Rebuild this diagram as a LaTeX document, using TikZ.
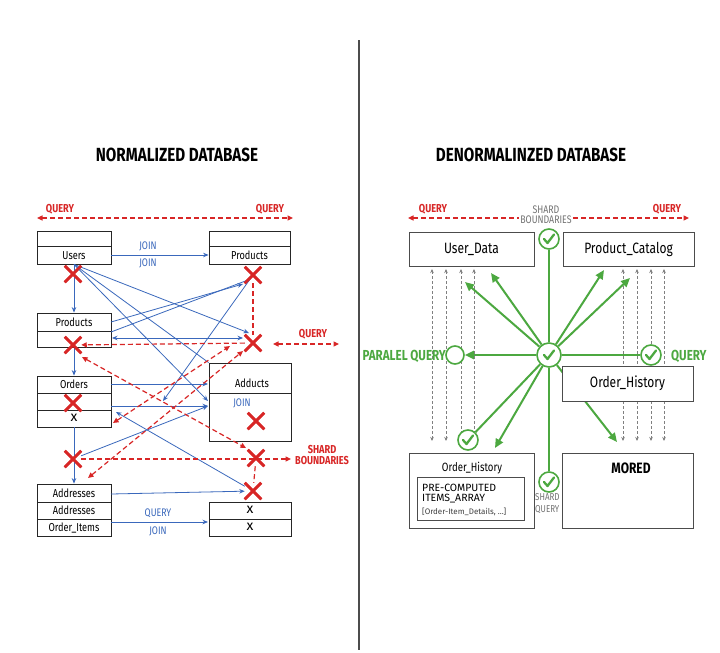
\documentclass[tikz,border=0pt]{standalone}
\usepackage{fontspec}
\setmainfont{Fira Sans}[FakeStretch=0.8]
\newfontfamily\widefont{Fira Sans}
\newfontfamily\lightfont{Fira Sans Light}
\usetikzlibrary{arrows.meta,shapes.misc}
\definecolor{cred}{RGB}{216,38,38}
\definecolor{cblue}{RGB}{58,104,188}
\definecolor{cgreen}{RGB}{76,168,64}
\newcommand\fsz[1]{\fontsize{#1}{#1}\selectfont}
\begin{document}
\begin{tikzpicture}[x=1pt,y=-1pt,
 tbox/.style={draw=black!85,line width=0.8pt,fill=white,inner sep=0pt},
 rbox/.style={draw=black!70,line width=1pt,fill=white,inner sep=0pt},
 divl/.style={draw=black!85,line width=0.8pt},
 lab/.style={font=\fsz{11.5},text=black,inner sep=1pt},
 xlab/.style={font=\widefont\fsz{14},text=black,inner sep=0pt},
 blab/.style={font=\fsz{11},text=cblue,inner sep=1pt},
 rlab/.style={font=\bfseries\fsz{11.5},text=cred,inner sep=1pt},
 glab/.style={font=\bfseries\fsz{14.5},text=cgreen,inner sep=1pt},
 gylab/.style={font=\fsz{11},text=black!55,inner sep=1pt},
 title/.style={font=\bfseries\fsz{19},text=black},
 redx/.style={cross out,draw=cred,line width=2.5pt,minimum size=14pt,inner sep=0pt},
 bl/.style={draw=cblue,line width=0.8pt},
 bla/.style={bl,-{Stealth[length=5.5pt,width=4.5pt]}},
 blaa/.style={bl,{Stealth[length=5.5pt,width=4.5pt]}-{Stealth[length=5.5pt,width=4.5pt]}},
 rd/.style={draw=cred,line width=1.2pt,dash pattern=on 5pt off 3pt},
 rda/.style={rd,-{Triangle[length=5.5pt,width=5pt]}},
 rdaa/.style={rd,{Triangle[length=5.5pt,width=5pt]}-{Triangle[length=5.5pt,width=5pt]}},
 gd/.style={draw=black!50,line width=0.8pt,dash pattern=on 3pt off 2pt,{Stealth[length=4pt,width=3.5pt]}-{Stealth[length=4pt,width=3.5pt]}},
 gl/.style={draw=cgreen,line width=2pt},
 gla/.style={gl,-{Triangle[length=9pt,width=8pt]}},
 chk/.style={circle,draw=cgreen,line width=1.6pt,fill=white,minimum size=#1,inner sep=0pt,
   path picture={\draw[cgreen,line width=2.3pt,line cap=round,line join=round,
     shift={(path picture bounding box.center)},scale=#1/20] (-5,0) -- (-1.5,4) -- (5,-4.5);}},
 hol/.style={circle,draw=cgreen,line width=1.6pt,fill=white,minimum size=18pt,inner sep=0pt}
]
\useasboundingbox (0,0) rectangle (720,653);
\fill[white] (0,0) rectangle (720,653);

% divider
\coordinate (dv1) at (359,40);
\coordinate (dv2) at (359,650);
\draw[line width=1.1pt,black!70] (dv1) -- (dv2);

% titles
\node[title] (t1) at (177,155) {NORMALIZED DATABASE};
\node[title] (t2) at (531,155) {DENORMALINZED DATABASE};

%================ LEFT ================
\coordinate (lq1) at (37,218);
\coordinate (lq2) at (293,218);
\draw[rdaa] (lq1) -- (lq2);
\node[rlab] (lqa) at (60,209) {QUERY};
\node[rlab] (lqb) at (270,209) {QUERY};

% boxes
\node[tbox,minimum width=74pt,minimum height=33pt] (users) at (74,247.5) {};
\draw[divl] (37,246) -- (111,246);
\node[lab] (usersT) at (74,255.5) {Users};

\node[tbox,minimum width=81pt,minimum height=33pt] (prodtop) at (249.5,247.5) {};
\draw[divl] (209,246) -- (290,246);
\node[lab] (prodtopT) at (249.5,255.5) {Products};

\node[tbox,minimum width=74pt,minimum height=34pt] (prodleft) at (74,330) {};
\draw[divl] (37,331) -- (111,331);
\node[lab] (prodleftT) at (74,322.5) {Products};

\node[tbox,minimum width=74pt,minimum height=51pt] (orders) at (74,401.5) {};
\draw[divl] (37,393) -- (111,393);
\draw[divl] (37,410) -- (111,410);
\node[lab] (ordersT) at (74,384.5) {Orders};
\node[xlab] (ordersX) at (74,417.5) {x};

\node[tbox,minimum width=82pt,minimum height=78pt] (adducts) at (250,402) {};
\draw[divl] (209,393) -- (291,393);
\node[lab] (adductsT) at (252,383.5) {Adducts};
\node[blab] (adductsJ) at (242,403) {JOIN};

\node[tbox,minimum width=74pt,minimum height=52pt] (addr) at (74,510) {};
\draw[divl] (37,502) -- (111,502);
\draw[divl] (37,519) -- (111,519);
\node[lab] (addrT1) at (74,493.5) {Addresses};
\node[lab] (addrT2) at (74,510.5) {Addresses};
\node[lab] (addrT3) at (74,528) {Order\_Items};

\node[tbox,minimum width=82pt,minimum height=34pt] (brbox) at (250,519) {};
\draw[divl] (209,519) -- (291,519);
\node[xlab] (brX1) at (250,510) {x};
\node[xlab] (brX2) at (250,527) {x};

% X marks
\node[redx] (xa) at (73,274) {};
\node[redx] (xb) at (253,275) {};
\node[redx] (xc) at (73,345) {};
\node[redx] (xd) at (253,343) {};
\node[redx] (xe) at (73,403) {};
\node[redx] (xf) at (256,421) {};
\node[redx] (xg) at (73,459) {};
\node[redx] (xh) at (256,458) {};
\node[redx] (xi) at (253,491) {};

% blue connectors
\draw[bla] ([yshift=-7.5pt]users.east) -- ([yshift=-7.5pt]prodtop.west);
\node[blab] (j1) at (148,246) {JOIN};
\node[blab] (j2) at (148,263) {JOIN};
\draw[bla] (users.south) -- (prodleft.north);
\coordinate (fa) at (249,333);
\coordinate (fc) at (208,401);
\draw[bla] (users.south) -- (fa);
\draw[bl] (users.south) -- (adducts.north west);
\draw[bla] (users.south) -- (fc);
\coordinate (pl1) at (111,322);
\coordinate (pl2) at (111,332);
\coordinate (pt1) at (243,284);
\coordinate (pt2) at (248,280);
\draw[bla] (pl1) -- (pt1);
\draw[bl] (pl2) -- (pt2);
\coordinate (pl3) at (112,338);
\coordinate (pt3) at (243,338);
\draw[blaa] (pl3) -- (pt3);
\coordinate (bd) at (163,401);
\draw[bla] (xb.center) -- (bd);
\draw[bla] (prodleft.south) -- (orders.north);
\coordinate (o1) at (111,384);
\coordinate (a1) at (208,384);
\draw[bla] (o1) -- (a1);
\coordinate (o2) at (111,406);
\coordinate (a2) at (208,406);
\draw[bla] (o2) -- (a2);
\draw[bla] (xg) -- (a2);
\coordinate (o3) at (116,412);
\draw[bla] (xi) -- (o3);
\draw[bla] (orders.south) -- (addr.north);
\coordinate (ad1) at (111,494);
\draw[bla] (ad1) -- (xi);
\coordinate (oi) at (111,522);
\coordinate (br1) at (208,522);
\draw[bla] (oi) -- (br1);
\node[blab] (bq) at (158,513) {QUERY};
\node[blab] (bj) at (158,531) {JOIN};

% red dashed connectors
\draw[rd] (xb) -- (xd);
\draw[rda] (xd) -- (xc);
\coordinate (rq1) at (273,344);
\coordinate (rq2) at (339,344);
\draw[rdaa] (rq1) -- (rq2);
\node[rlab] (rql) at (313,334) {QUERY};
\coordinate (r5a) at (113,423);
\coordinate (r5b) at (230,346);
\draw[rdaa] (r5a) -- (r5b);
\coordinate (r6a) at (88,478);
\coordinate (r6b) at (243,351);
\draw[rdaa] (r6a) -- (r6b);
\coordinate (r7a) at (82,357);
\coordinate (r7b) at (246,448);
\draw[rdaa] (r7a) -- (r7b);
\coordinate (sb) at (291,459);
\draw[rda] (xg) -- (sb);
\node[rlab,align=center] (sbl) at (322,455) {SHARD\\[-1pt]BOUNDARIES};
\draw[rd] (xh) -- (xi);

% redraw X marks on top
\foreach \n in {xa,xb,xc,xd,xe,xf,xg,xh,xi} {\draw[cred,line width=2.5pt] (\n.south west) -- (\n.north east) (\n.north west) -- (\n.south east);}

%================ RIGHT ================
\coordinate (rq3) at (408,218);
\coordinate (rq4) at (689,218);
\draw[rdaa] (rq3) -- (rq4);
\node[rlab] (rqa) at (433,209) {QUERY};
\node[rlab] (rqb) at (667,209) {QUERY};
\node[gylab,fill=white,align=center] (sbr) at (546,215) {SHARD\\[-1pt]BOUNDARIES};

% gray dashed
\foreach \xx [count=\i] in {432,446,461,474,623,637,651,664} {
  \coordinate (gt\i) at (\xx,269);
  \coordinate (gb\i) at (\xx,441);
  \draw[gd] (gt\i) -- (gb\i);
}

% circles
\node[chk=20] (ctop) at (549,239) {};
\node[chk=24] (ccen) at (549,355) {};
\node[chk=20] (cright) at (651,355) {};
\node[chk=20] (cbl) at (468,440) {};
\node[chk=20] (cbot) at (549,482) {};
\node[hol] (cleft) at (455,355) {};

% green connectors
\coordinate (ga1) at (465,282);
\coordinate (ga2) at (491,273);
\coordinate (ga3) at (604,270);
\coordinate (ga4) at (630,278);
\coordinate (ga5) at (495,448);
\coordinate (ga6) at (617,442);
\draw[gl] (ctop) -- (ccen);
\draw[gla] (ccen) -- (ga1);
\draw[gla] (ccen) -- (ga2);
\draw[gla] (ccen) -- (ga3);
\draw[gla] (ccen) -- (ga4);
\draw[gla] (ccen) -- (cleft);
\draw[gl] (ccen) -- (cright);
\draw[gl] (ccen) -- (cbl);
\draw[gla] (ccen) -- (ga5);
\draw[gl] (ccen) -- (cbot);
\draw[gla] (ccen) -- (ga6);

\node[glab,anchor=east] (plq) at (447,356) {PARALEL QUERY};
\node[glab,anchor=west] (gq) at (670,356) {QUERY};

% boxes
\node[rbox,minimum width=125pt,minimum height=34pt,font=\fsz{15}] (ud) at (471.5,249) {User\_Data};
\node[rbox,minimum width=131pt,minimum height=34pt,font=\fsz{15}] (pc) at (628.5,249) {Product\_Catalog};
\node[rbox,minimum width=131pt,minimum height=35pt,font=\fsz{15}] (oh) at (627.5,383.5) {Order\_History};

\node[rbox,minimum width=125pt,minimum height=75pt] (ohb) at (471.5,490.5) {};
\node[font=\fsz{12},inner sep=1pt] (ohbT) at (472,468) {Order\_History};
\node[draw=black!70,line width=0.9pt,fill=white,minimum width=107pt,minimum height=43pt,inner sep=0pt] (inner) at (470.5,498.5) {};
\node[anchor=west,font=\widefont\fsz{10.5},inner sep=1pt] (pc1) at (421,487.5) {PRE-COMPUTED};
\node[anchor=west,font=\widefont\fsz{10.5},inner sep=1pt] (pc2) at (421,498.5) {ITEMS\_ARRAY};
\node[anchor=west,font=\widefont\fsz{8},text=black!75,inner sep=1pt] (pc3) at (421,511.5) {[Order-Item\_Details, ...]};

\node[gylab,anchor=west,font=\fsz{10}] (sq1) at (534,497) {SHARD};
\node[gylab,anchor=west,font=\fsz{10}] (sq2) at (534,510) {QUERY};
\node[rbox,minimum width=131pt,minimum height=75pt] (mored) at (627.5,490.5) {};
\node[font=\bfseries\fsz{15},inner sep=1pt] (moredT) at (631,468) {MORED};
\end{tikzpicture}
\end{document}
